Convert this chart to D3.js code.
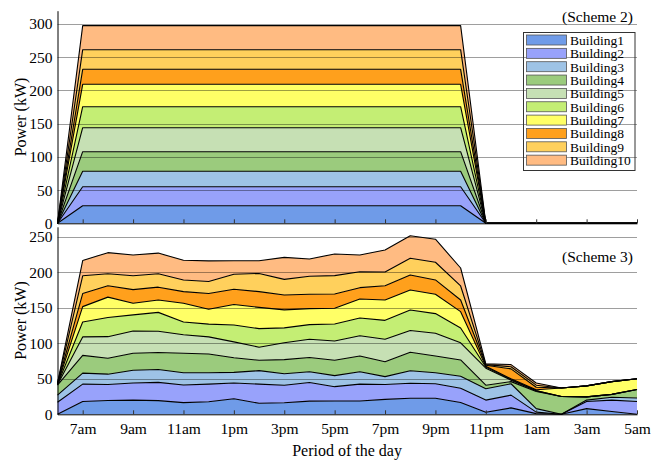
<!DOCTYPE html>
<html>
<head>
<meta charset="utf-8">
<script src="https://cdn.jsdelivr.net/npm/d3@7/dist/d3.min.js"></script>
<style>
  body { margin: 0; background: #fff; }
  svg { font-family: "Liberation Serif", "Times New Roman", serif; display: block; }
</style>
</head>
<body>
<svg id="chart" width="662" height="463"></svg>
<script>
// hours of the day, 6am .. 5am next morning
var hours = [6, 7, 8, 9, 10, 11, 12, 13, 14, 15, 16, 17, 18, 19, 20, 21, 22, 23, 24, 25, 26, 27, 28, 29];
var tickHours = [7, 9, 11, 13, 15, 17, 19, 21, 23, 25, 27, 29];
var tickLabels = ["7am", "9am", "11am", "1pm", "3pm", "5pm", "7pm", "9pm", "11pm", "1am", "3am", "5am"];

var buildings = ["Building1", "Building2", "Building3", "Building4", "Building5",
                 "Building6", "Building7", "Building8", "Building9", "Building10"];
var colors = ["#6f9be8", "#98a2fb", "#9ec3e6", "#9bcb7d", "#c6e0b4",
              "#c4ee74", "#ffff66", "#ffa01c", "#ffd05c", "#ffbb82"];

// Scheme 2 (kW per building, per hour)
var scheme2Power = [
  [0, 26.5, 26.5, 26.5, 26.5, 26.5, 26.5, 26.5, 26.5, 26.5, 26.5, 26.5, 26.5, 26.5, 26.5, 26.5, 26.5, 0, 0, 0, 0, 0, 0, 0],
  [0, 28.6, 28.6, 28.6, 28.6, 28.6, 28.6, 28.6, 28.6, 28.6, 28.6, 28.6, 28.6, 28.6, 28.6, 28.6, 28.6, 0, 0, 0, 0, 0, 0, 0],
  [0, 23.2, 23.2, 23.2, 23.2, 23.2, 23.2, 23.2, 23.2, 23.2, 23.2, 23.2, 23.2, 23.2, 23.2, 23.2, 23.2, 0, 0, 0, 0, 0, 0, 0],
  [0, 29.5, 29.5, 29.5, 29.5, 29.5, 29.5, 29.5, 29.5, 29.5, 29.5, 29.5, 29.5, 29.5, 29.5, 29.5, 29.5, 0, 0, 0, 0, 0, 0, 0],
  [0, 36.1, 36.1, 36.1, 36.1, 36.1, 36.1, 36.1, 36.1, 36.1, 36.1, 36.1, 36.1, 36.1, 36.1, 36.1, 36.1, 0, 0, 0, 0, 0, 0, 0],
  [0, 31.6, 31.6, 31.6, 31.6, 31.6, 31.6, 31.6, 31.6, 31.6, 31.6, 31.6, 31.6, 31.6, 31.6, 31.6, 31.6, 0, 0, 0, 0, 0, 0, 0],
  [0, 33.7, 33.7, 33.7, 33.7, 33.7, 33.7, 33.7, 33.7, 33.7, 33.7, 33.7, 33.7, 33.7, 33.7, 33.7, 33.7, 0, 0, 0, 0, 0, 0, 0],
  [0, 22.6, 22.6, 22.6, 22.6, 22.6, 22.6, 22.6, 22.6, 22.6, 22.6, 22.6, 22.6, 22.6, 22.6, 22.6, 22.6, 0, 0, 0, 0, 0, 0, 0],
  [0, 29.5, 29.5, 29.5, 29.5, 29.5, 29.5, 29.5, 29.5, 29.5, 29.5, 29.5, 29.5, 29.5, 29.5, 29.5, 29.5, 0, 0, 0, 0, 0, 0, 0],
  [0, 36.2, 36.2, 36.2, 36.2, 36.2, 36.2, 36.2, 36.2, 36.2, 36.2, 36.2, 36.2, 36.2, 36.2, 36.2, 36.2, 0, 0, 0, 0, 0, 0, 0]
];

// Scheme 3 (kW per building, per hour)
var scheme3Power = [
  [0, 18, 19.5, 20, 19.2, 16.5, 17.7, 21.8, 15.5, 16.2, 18.5, 18.7, 18.7, 21, 22.5, 22.5, 16.6, 3, 9, 1, 0, 8, 4, 0],
  [17, 24.5, 22.5, 24, 25.8, 24.8, 24.8, 22.2, 27, 24.6, 26.3, 20.2, 23.8, 21, 21.2, 20.5, 20, 17, 18, 2, 0, 10, 16, 18],
  [10, 15.5, 14.5, 18, 18, 17.3, 16.1, 15, 19, 16.2, 15.2, 15.5, 17.5, 11, 17.7, 15.6, 16.9, 16, 16, 5, 0, 2, 4, 5],
  [14, 25, 22.5, 24, 24, 27.4, 26.4, 20.7, 14.5, 20, 20, 21.6, 22.1, 21.1, 25.9, 23.5, 23, 5, 3, 24, 25, 4.5, 4, 12],
  [0.5, 26, 30.3, 31.3, 30, 26, 24, 22.3, 18.5, 23.7, 25.6, 27.2, 28.6, 31.5, 30.7, 32, 24.2, 24, 2, 1, 0, 0, 0, 0],
  [0.5, 21, 27, 22.7, 26.5, 18, 18, 23.8, 26.1, 21, 20.7, 24, 24.9, 26.7, 28.9, 27.7, 20.8, 1.5, 1, 0.5, 0, 0, 0, 0],
  [0.5, 21.6, 28.7, 16.3, 17.5, 26.3, 21, 28.7, 29.9, 25.3, 22.5, 22.1, 26.8, 28.7, 28.1, 27.2, 23, 1, 1, 1, 12, 15.5, 18, 15],
  [0.5, 18.4, 16, 19.2, 18, 16.4, 22, 21.5, 22.2, 21, 20.2, 20.1, 15.9, 20.1, 21.2, 20.2, 16.5, 1.5, 14, 3.5, 0, 0, 0, 0],
  [0.5, 25, 17, 19.5, 19, 16.5, 17, 21.2, 25.6, 22, 25.3, 25.8, 22.5, 19.3, 23.5, 24.9, 19.7, 1, 3, 3, 0, 0, 0, 0],
  [0.5, 21.5, 29.6, 29.4, 29, 27.6, 29, 19.1, 17.9, 31, 24.4, 30.6, 23.6, 31, 31.8, 32.4, 25.3, 1, 3, 3, 0, 0, 0, 0]
];

var svg = d3.select("#chart");

var x = d3.scaleLinear().domain([6, 29]).range([57.5, 637]);

function buildTable(rows) {
  return hours.map(function (h, i) {
    var row = {hour: h};
    buildings.forEach(function (b, k) { row[b] = rows[k][i]; });
    return row;
  });
}

function drawPanel(rows, yMax, yBottom, yTop, yTicks, showLabels, title, titleY) {
  var y = d3.scaleLinear().domain([0, yMax]).range([yBottom, yTop]);
  var g = svg.append("g");

  var series = d3.stack().keys(buildings)(buildTable(rows));

  var area = d3.area()
    .x(function (d) { return x(d.data.hour); })
    .y0(function (d) { return y(d[0]); })
    .y1(function (d) { return y(d[1]); });

  var line = d3.line()
    .x(function (d) { return x(d.data.hour); })
    .y(function (d) { return y(d[1]); });

  g.selectAll(".area")
    .data(series)
    .enter().append("path")
    .attr("class", "area")
    .attr("d", area)
    .style("fill", function (d, i) { return colors[i]; });

  // grid lines on top of the areas
  g.selectAll(".grid")
    .data(yTicks.slice(1))
    .enter().append("line")
    .attr("x1", x.range()[0])
    .attr("x2", x.range()[1])
    .attr("y1", function (d) { return Math.round(y(d)) + 0.5; })
    .attr("y2", function (d) { return Math.round(y(d)) + 0.5; })
    .style("stroke", "#000")
    .style("stroke-opacity", 0.38)
    .style("stroke-width", 1);

  g.selectAll(".edge")
    .data(series)
    .enter().append("path")
    .attr("d", line)
    .style("fill", "none")
    .style("stroke", "#000")
    .style("stroke-width", 1.1)
    .style("stroke-linejoin", "round");

  // y axis
  var yAxis = g.append("g")
    .attr("transform", "translate(" + x.range()[0] + ",0)")
    .call(d3.axisLeft(y).tickValues(yTicks).tickSize(0).tickSizeOuter(0).tickPadding(5));
  yAxis.select(".domain").style("stroke", "#000");
  yAxis.selectAll("text")
    .style("font-family", "Liberation Serif")
    .style("font-size", "15.5px")
    .style("fill", "#000");

  // x axis
  var xAxis = g.append("g")
    .attr("transform", "translate(0," + yBottom + ")")
    .call(d3.axisBottom(x).tickValues(tickHours).tickSize(-4).tickSizeOuter(0)
      .tickFormat(function (d, i) { return showLabels ? tickLabels[i] : ""; }));
  xAxis.select(".domain").style("stroke", "#000");
  xAxis.selectAll(".tick line").style("stroke", "#333");
  xAxis.selectAll("text")
    .attr("y", 20)
    .attr("dy", null)
    .style("font-family", "Liberation Serif")
    .style("font-size", "15.5px")
    .style("fill", "#000");

  g.append("text")
    .attr("transform", "translate(20," + ((yBottom + yTop) / 2) + ") rotate(-90)")
    .attr("text-anchor", "middle")
    .attr("dy", "0.35em")
    .style("font-size", "16px")
    .text("Power (kW)");

  g.append("text")
    .attr("x", 633)
    .attr("y", titleY)
    .attr("text-anchor", "end")
    .style("font-size", "15.5px")
    .text(title);

  return y;
}

drawPanel(scheme2Power, 320, 223.3, 10.7, [0, 50, 100, 150, 200, 250, 300], false, "(Scheme 2)", 22);
drawPanel(scheme3Power, 264, 414.3, 226.8, [0, 50, 100, 150, 200, 250], true, "(Scheme 3)", 262);

svg.append("text")
  .attr("x", 347)
  .attr("y", 456)
  .attr("text-anchor", "middle")
  .style("font-size", "16px")
  .text("Period of the day");

// legend
var legend = svg.append("g").attr("transform", "translate(523.5,32.5)");
legend.append("rect")
  .attr("width", 111.5)
  .attr("height", 138)
  .style("fill", "none")
  .style("stroke", "#333");

var item = legend.selectAll(".item")
  .data(buildings)
  .enter().append("g")
  .attr("transform", function (d, i) { return "translate(0," + (i * 13.35) + ")"; });

item.append("rect")
  .attr("x", 3)
  .attr("y", 2.5)
  .attr("width", 40)
  .attr("height", 10)
  .style("fill", function (d, i) { return colors[i]; })
  .style("stroke", "#555")
  .style("stroke-width", 0.8);

item.append("text")
  .attr("x", 46.5)
  .attr("y", 12.5)
  .style("font-size", "13.5px")
  .text(function (d) { return d; });
</script>
</body>
</html>
